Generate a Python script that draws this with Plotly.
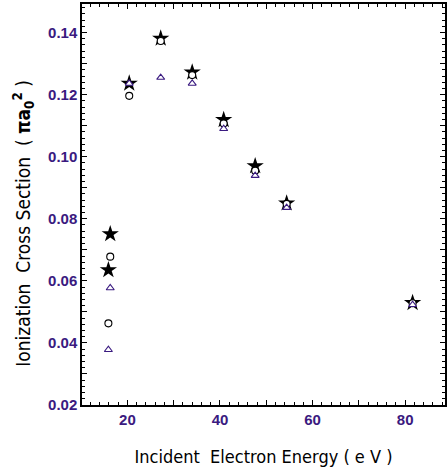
import plotly.graph_objects as go

energy = [15.9, 16.3, 20.4, 27.2, 34.0, 40.8, 47.6, 54.4, 81.6]
stars = [0.0635, 0.0751, 0.1236, 0.1381, 0.1272, 0.1119, 0.0970, 0.0850, 0.0529]
circles = [0.0463, 0.0678, 0.1196, 0.1373, 0.1263, 0.1107, 0.0955, 0.0848, 0.0528]
triangles = [0.0378, 0.0577, 0.1236, 0.1255, 0.1236, 0.1090, 0.0939, 0.0836, 0.0523]

x_tickvals = [10, 20, 30, 40, 50, 60, 70, 80]
x_ticktext = ["", "20", "", "40", "", "60", "", "80"]
y_tickvals = [0.02, 0.03, 0.04, 0.05, 0.06, 0.07, 0.08, 0.09, 0.10, 0.11, 0.12, 0.13, 0.14]
y_ticktext = ["0.02", "", "0.04", "", "0.06", "", "0.08", "", "0.10", "", "0.12", "", "0.14"]

purple = "#3a1a80"

fig = go.Figure()
fig.add_trace(go.Scatter(x=energy, y=stars, mode="markers",
                         marker=dict(symbol="star", size=13, color="black",
                                     line=dict(width=0))))
fig.add_trace(go.Scatter(x=energy, y=circles, mode="markers",
                         marker=dict(symbol="circle", size=7, color="white",
                                     line=dict(width=1.1, color="black"))))
fig.add_trace(go.Scatter(x=energy, y=triangles, mode="markers",
                         marker=dict(symbol="triangle-up", size=7, color="white",
                                     line=dict(width=1.1, color=purple))))

tickfont = dict(family="Liberation Sans, Arial", size=15, color=purple, weight="bold")
fam = "DejaVu Sans Condensed, Liberation Sans Narrow, Liberation Sans"

fig.update_layout(
    width=448, height=474,
    margin=dict(l=82, r=1, t=4, b=69),
    paper_bgcolor="white", plot_bgcolor="white",
    showlegend=False,
    xaxis=dict(range=[10.2, 88.6], tickmode="array", tickvals=x_tickvals,
               ticktext=x_ticktext, ticks="inside", ticklen=5, tickwidth=1,
               tickcolor="black", showline=True, linecolor="black", linewidth=1.5,
               mirror="ticks", showgrid=False, zeroline=False, tickfont=tickfont,
               minor=dict(dtick=2, ticks="inside", ticklen=3, tickcolor="black", tickwidth=1),
               title=dict(text="Incident  Electron Energy ( e V )",
                          font=dict(family=fam, size=18, color="black"), standoff=24)),
    yaxis=dict(range=[0.02, 0.1492], tickmode="array", tickvals=y_tickvals,
               ticktext=y_ticktext, ticks="inside", ticklen=5, tickwidth=1,
               tickcolor="black", showline=True, linecolor="black", linewidth=1.5,
               mirror="ticks", showgrid=False, zeroline=False, tickfont=tickfont,
               minor=dict(dtick=0.002, ticks="inside", ticklen=3, tickcolor="black", tickwidth=1),
               title=dict(text="Ionization  Cross Section  ( <b>πa<sub>0</sub><sup>2</sup></b> )"
                               + "&nbsp;" * 7,
                          font=dict(family=fam, size=19, color="black"), standoff=12)),
)

fig.write_html("out.html")
